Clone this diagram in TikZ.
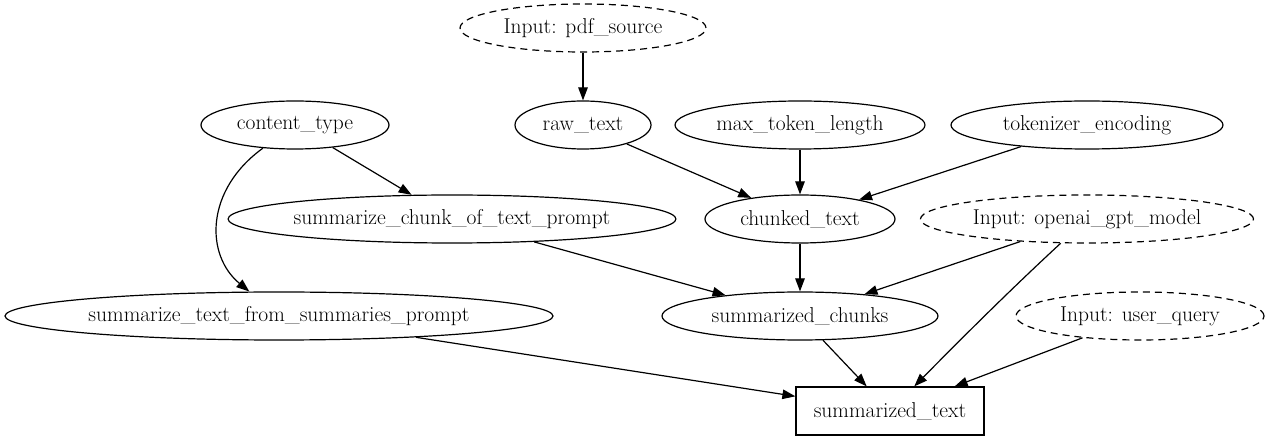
\documentclass[tikz,border=0pt]{standalone}
\usetikzlibrary{positioning,arrows.meta,shapes}

\begin{document}
\begin{tikzpicture}[
  x=1pt, y=-1pt,
  every node/.style={font=\fontsize{21.5}{24}\selectfont},
  oval/.style={draw, ellipse, line width=1.2pt, inner sep=0pt, minimum height=48pt},
  input/.style={oval, dash pattern=on 7pt off 5pt},
  box/.style={draw, rectangle, line width=1.2pt, inner sep=0pt, minimum width=188pt, minimum height=48pt},
  arrow/.style={-{Triangle[length=13pt,width=9.5pt]}, line width=1.2pt}
]
\useasboundingbox (0,0) rectangle (1270,443);

\node[input, minimum width=246pt] (pdf) at (583,28) {Input: pdf\_source};
\node[oval, minimum width=188pt] (ctype) at (295,125) {content\_type};
\node[oval, minimum width=136pt] (raw) at (583,125) {raw\_text};
\node[oval, minimum width=250pt] (maxlen) at (800,125) {max\_token\_length};
\node[oval, minimum width=272pt] (tokenc) at (1087,125) {tokenizer\_encoding};
\node[oval, minimum width=446pt] (chunkprompt) at (452,219) {summarize\_chunk\_of\_text\_prompt};
\node[oval, minimum width=190pt] (chunked) at (800,219) {chunked\_text};
\node[input, minimum width=333pt] (model) at (1087,219) {Input: openai\_gpt\_model};
\node[oval, minimum width=548pt] (textprompt) at (279,316) {summarize\_text\_from\_summaries\_prompt};
\node[oval, minimum width=276pt] (chunks) at (800,316) {summarized\_chunks};
\node[input, minimum width=248pt] (query) at (1140,316) {Input: user\_query};
\node[box] (result) at (890,411) {summarized\_text};

\draw[arrow] (pdf) -- (raw);
\draw[arrow] (ctype) -- (chunkprompt);
\draw[arrow] (ctype) .. controls (205,190) and (205,255) .. (textprompt);
\draw[arrow] (raw) -- (chunked);
\draw[arrow] (maxlen) -- (chunked);
\draw[arrow] (tokenc) -- (chunked);
\draw[arrow] (chunkprompt) -- (chunks);
\draw[arrow] (chunked) -- (chunks);
\draw[arrow] (model) -- (chunks);
\draw[arrow] (model) .. controls (1010,290) and (960,340) .. (result);
\draw[arrow] (textprompt) -- (result);
\draw[arrow] (chunks) -- (result);
\draw[arrow] (query) -- (result);
\end{tikzpicture}
\end{document}
